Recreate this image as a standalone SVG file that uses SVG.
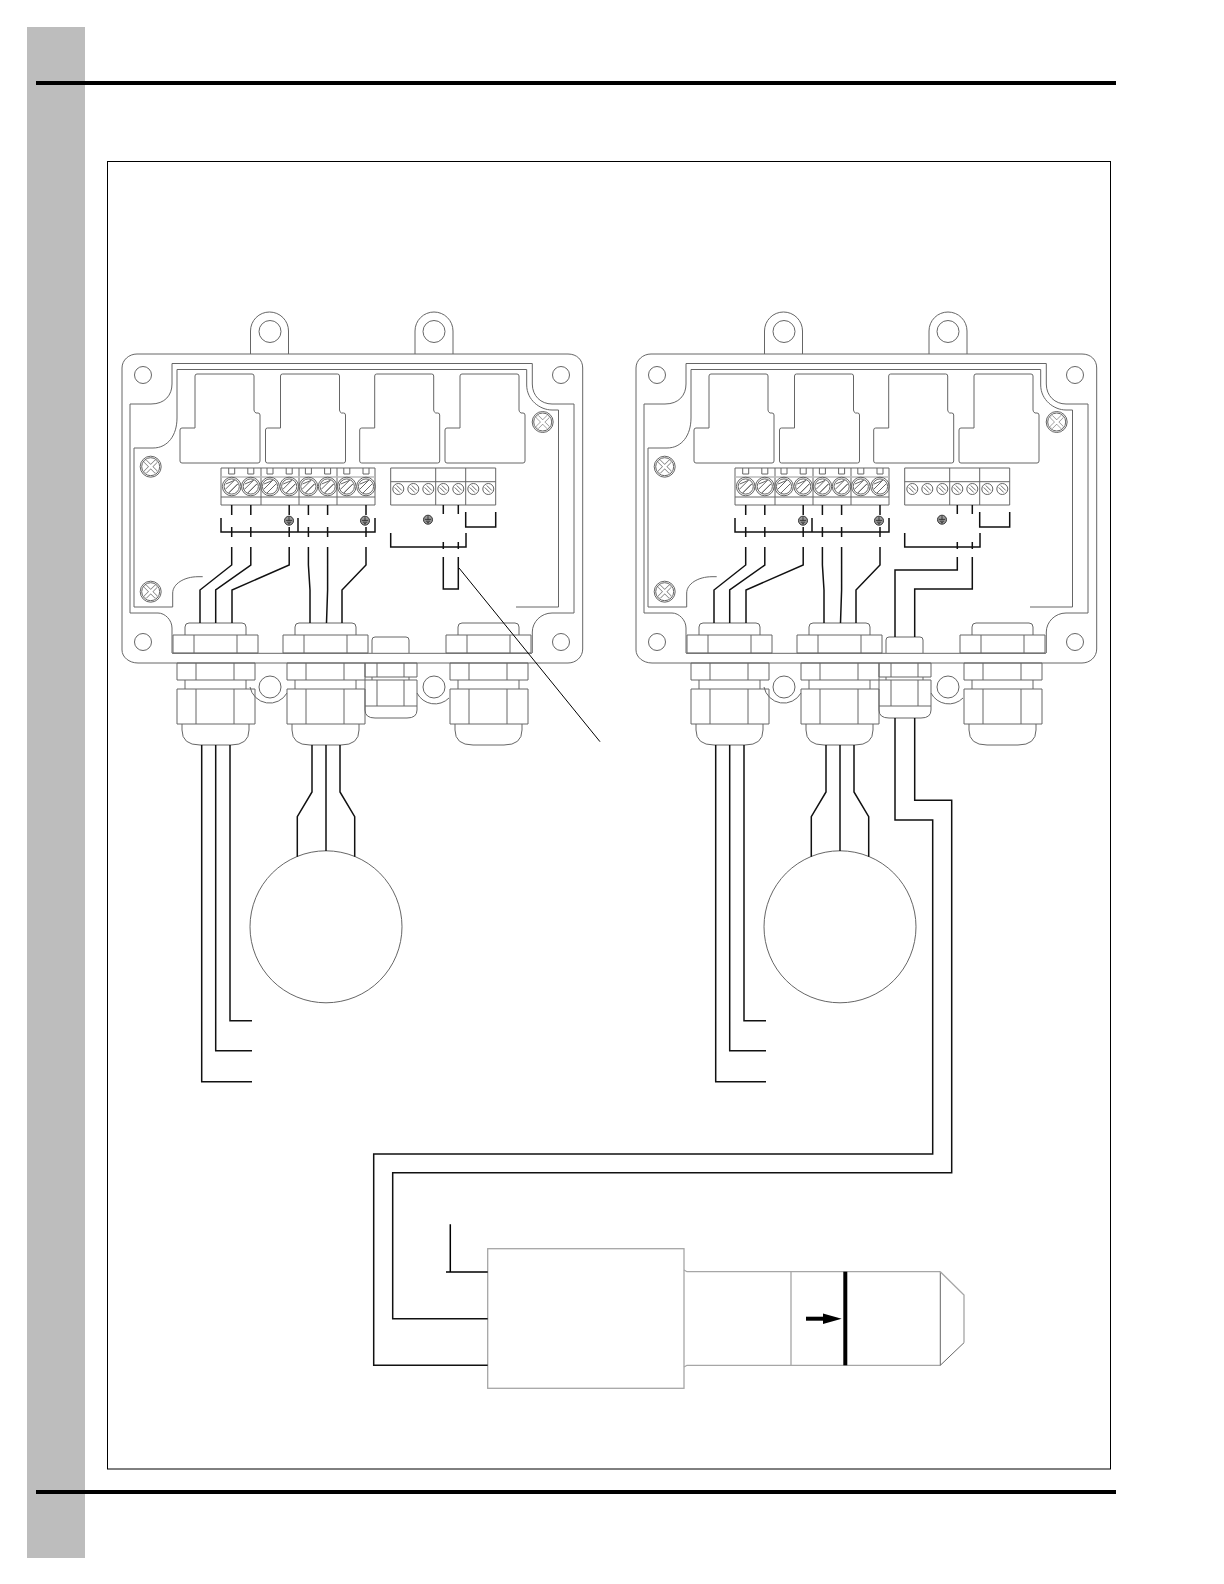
<svg xmlns="http://www.w3.org/2000/svg" width="1224" height="1584" viewBox="0 0 1224 1584">
<style>
.t{fill:none;stroke:#666;stroke-width:1}
.l{fill:none;stroke:#a6a6a6;stroke-width:1.3}
.w{fill:none;stroke:#111;stroke-width:1.5}
.k{fill:none;stroke:#000;stroke-width:1.5}
.n{fill:none;stroke:#000;stroke-width:1}
.b{fill:none;stroke:#bbb;stroke-width:1.5}
</style>
<defs>
<g id="screw-a"><circle class="t" r="9.3"/><circle class="t" r="7.6"/><path class="t" d="M-6-2.500L2.500-6M-6.500 3L3-6.500M-3 6.500L6.500-3M-2.500 6L6-2.500"/></g>
<g id="screw-b"><circle class="t" r="5.500"/><path class="t" d="M-3.500-1.500L1.500 3.500M-1.500-3.500L3.500 1.500"/></g>
<g id="screw-x"><circle class="t" r="10.500"/><circle class="t" r="9"/><path d="M-5.500-5.500L5.500 5.500M5.500-5.500L-5.500 5.500" fill="none" stroke="#777" stroke-width="3.800"/><path d="M-5.500-5.500L5.500 5.500M5.500-5.500L-5.500 5.500" fill="none" stroke="#fff" stroke-width="2.500"/></g>
<g id="ground"><circle r="4.500" fill="#999" stroke="#333" stroke-width="1"/><path d="M-3.200-.3H3.200M-2.200 1.500H2.200M-1 3H1M0-3.500V-.3" stroke="#222" stroke-width=".8" fill="none"/></g>
<path id="cutout" class="t" d="M0 2Q0 0 2 0H57Q59 0 59 2V36Q59 38 61 39H63Q65 39 65 41V87Q65 89 63 89H-13Q-15 89 -15 87V56Q-15 54 -13 54H0Z"/>
<g id="gland">
<path class="t" d="M185 635V627Q185 623 189 623H242Q246 623 246 627V635"/>
<path class="t" d="M173 635H258V653H173ZM194 635V653M237 635V653"/>
<path class="t" d="M177 663H255V680H177ZM196 663V680M234 663V680"/>
<path class="t" d="M185 680V689M246 680V689"/>
<path class="t" d="M177 689H255V724H177ZM196 689V724M234 689V724"/>
<path class="t" d="M182 724V730Q182 745 200 745H231Q249 745 249 730V724"/>
</g>
<g id="small-gland-parts">
<path class="t" d="M365 663H417V677H365ZM377 663V677M404 663V677"/>
<path class="t" d="M365 680H417V706H365ZM377 680V706M404 680V706M372 677V680M409 677V680"/>
<path class="t" d="M365 706V710Q365 718 375 718H407Q417 718 417 710V706"/>
<path class="t" d="M372 653V640Q372 637 375 637H406Q409 637 409 640V653"/>
</g>
<g id="enclosure">
<path class="t" d="M137 354H568C577 354 582.700 360 582.700 368V649C582.700 657 576 663 568 663H138C129 663 122 657 122 650V368C122 360 129 354 137 354Z"/>
<path class="t" d="M250.500 354V331A19 19 0 0 1 288.500 331V354M415 354V331A19 19 0 0 1 453 331V354"/>
<circle class="t" cx="270" cy="331.500" r="11"/><circle class="t" cx="434" cy="331.500" r="11"/>
<circle class="t" cx="143" cy="375" r="8.500"/><circle class="t" cx="561" cy="375" r="8.500"/>
<circle class="t" cx="143" cy="642" r="8.500"/><circle class="t" cx="561" cy="642" r="8.500"/>
<path class="t" d="M172 653V628C172 620 165 613 158 613H130V404H151C165 404 172 395 172 384V363.500H532.300V384C532.300 396 541 404 552 404H574V613H552C541 613 532.300 622 532.300 632V653"/>
<path class="t" d="M202.700 576.700H198C184 576.700 172.700 584 172.700 593V607H134V448H153C168 448 177 435 177 418V369.500H526.700V385C526.700 400 540 410 552 410H558.500V607H516"/>
<path class="t" d="M172 653.300H532"/>
<use href="#cutout" x="195" y="374"/><use href="#cutout" x="280.500" y="374"/><use href="#cutout" x="374.700" y="374"/><use href="#cutout" x="460" y="374"/>
<use href="#screw-x" x="150.700" y="466.700"/><use href="#screw-x" x="150.700" y="591.700"/><use href="#screw-x" x="542.700" y="422"/>
<path class="t" d="M221 468H375V505H221ZM221 497H375M261 468V505M299 468V505M337 468V505"/>
<path class="b" d="M221 477H375"/>
<path class="t" d="M228.700 468V474H234.700V468M247.800 468V474H253.800V468M267 468V474H273V468M286.200 468V474H292.200V468M305.400 468V474H311.400V468M324.600 468V474H330.600V468M343.800 468V474H349.800V468M363 468V474H369V468"/>
<use href="#screw-a" x="231.700" y="486.500"/><use href="#screw-a" x="250.800" y="486.500"/><use href="#screw-a" x="270" y="486.500"/><use href="#screw-a" x="289.200" y="486.500"/><use href="#screw-a" x="308.400" y="486.500"/><use href="#screw-a" x="327.600" y="486.500"/><use href="#screw-a" x="346.800" y="486.500"/><use href="#screw-a" x="366" y="486.500"/>
<path class="t" d="M390.700 468H495.700V505H390.700ZM390.700 481.700H495.700M435.700 468V505M465.700 468V505"/>
<use href="#screw-b" x="398.300" y="489"/><use href="#screw-b" x="413.300" y="489"/><use href="#screw-b" x="428.300" y="489"/><use href="#screw-b" x="443.300" y="489"/><use href="#screw-b" x="458.300" y="489"/><use href="#screw-b" x="473.300" y="489"/><use href="#screw-b" x="488.300" y="489"/>
<use href="#ground" x="289" y="520.700"/><use href="#ground" x="365" y="520.700"/><use href="#ground" x="428" y="519.700"/>
<use href="#gland"/><use href="#gland" x="110"/><use href="#gland" x="273"/>
<use href="#small-gland-parts"/>
<path class="t" d="M250 687A20 20 0 0 0 287 693M417 693A20 20 0 0 0 449 698"/>
<circle class="t" cx="270" cy="687" r="11"/><circle class="t" cx="434" cy="687" r="11"/>
</g>
<g id="box-wires">
<path class="w" d="M221 518V532H375V518M298 518V532"/>
<path class="w" d="M231.700 505V515M250.800 505V515M289.200 505V515M308.400 505V515M327.600 505V515M366 505V515M231.700 527V537M250.800 527V537M289.200 527V537M308.400 527V537M327.600 527V537M366 527V537"/>
<path class="w" d="M465.700 512V527H495.700V512M390.700 533V547H466V533"/>
<path class="w" d="M443.300 505V514M458.300 505V514M443.300 542V549M458.300 542V549"/>
<path class="w" d="M231.700 547V565L200 590V623M250.800 547V565L215.700 590V623M289.200 547V565L232 590V623M308.400 547V565L310 590V623M327.600 547V590L326.500 623M366 547V565L342 590V623"/>
<path class="w" d="M201.700 745V1081.700H252M215.700 745V1050.700H252M230 745V1020.700H252"/>
<path class="w" d="M312 745V792L297.300 816.700V856.700M326 745V851M340 745V792L354.700 816.700V856.700"/>
</g>
</defs>
<g id="page">
<rect x="27" y="27" width="58" height="1531" fill="#bdbdbd"/>
<rect x="36" y="81" width="1080" height="4" fill="#000"/>
<rect x="36" y="1490" width="1080" height="4" fill="#000"/>
<rect x="107.500" y="161.500" width="1003" height="1307.500" fill="none" stroke="#000" stroke-width="1"/>
</g>
<g id="box-left"><use href="#enclosure"/></g>
<g id="box-right"><use href="#enclosure" x="514"/></g>
<g id="motor-left"><circle class="t" cx="326" cy="926.800" r="76"/></g>
<g id="motor-right"><circle class="t" cx="840" cy="926.800" r="76"/></g>
<g id="sensor">
<rect class="l" x="487.700" y="1248.700" width="196.300" height="139.600"/>
<path class="l" d="M684 1270L687 1271.700H940.300M684 1367L687 1365.300H940.300M791 1271.700V1365.300"/>
<path class="t" d="M940.300 1271.700V1365.300L964 1342.700"/>
<path class="l" d="M940.300 1271.700L964 1295V1342.700"/>
<path d="M845.300 1271.700V1365.300" fill="none" stroke="#000" stroke-width="4"/>
<path d="M806 1318.700H824" fill="none" stroke="#000" stroke-width="4"/>
<path d="M823 1313.500L841.700 1318.700L823 1324Z" fill="#000"/>
</g>
<g id="connectors">
<use href="#box-wires"/>
<use href="#box-wires" x="514"/>
<path class="w" d="M443.300 557V589H458.300V557"/>
<path class="n" d="M459 568L600 741.700"/>
<path class="w" d="M957.300 557V570H895V637M972.300 557V589H914.700V637"/>
<path class="w" d="M914.700 718V800.300H951.700V1172.700H392.700V1318.700H487.700"/>
<path class="w" d="M895 718V820H932.700V1154H373.700V1365.300H487.700"/>
<path class="k" d="M450.300 1224.300V1272M446 1272H487.700"/>
</g>
</svg>
